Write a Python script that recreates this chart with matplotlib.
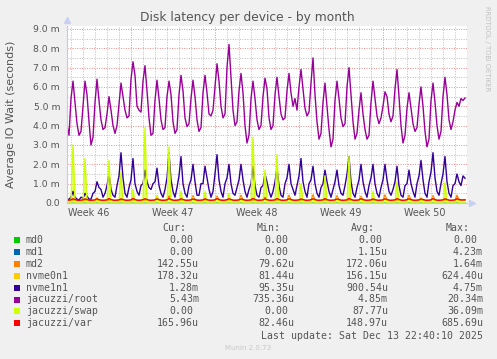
import matplotlib
import numpy as np

matplotlib.use('Agg')

import matplotlib.pyplot as plt
from matplotlib.ticker import FixedLocator

W, H = 497, 359

# values in milliseconds, one sample every 4 hours (6 per day), first two before day 0
root_ms = [
    4.0, 3.5,
    5.4, 6.3, 5.2, 4.1, 3.5, 3.7, 5.0, 6.3, 5.6, 4.2, 3.0, 3.4,
    5.2, 6.4, 5.3, 4.3, 3.8, 3.9, 4.6, 5.5, 4.8, 4.0, 3.6, 4.0,
    5.1, 6.2, 5.5, 4.8, 4.4, 4.5, 6.4, 7.3, 6.6, 5.0, 4.8, 4.7,
    6.3, 7.1, 5.8, 4.4, 3.5, 3.6, 5.3, 6.35, 5.4, 4.3, 3.8, 3.9,
    5.5, 6.3, 5.6, 4.2, 3.6, 3.8, 5.6, 6.6, 5.8, 4.4, 3.95, 4.1,
    5.4, 6.35, 5.5, 4.3, 3.7, 3.9, 5.7, 6.6, 5.7, 4.6, 4.5, 4.8,
    6.0, 7.2, 6.3, 5.0, 4.4, 4.6, 7.0, 8.2, 6.5, 4.8, 4.0, 4.2,
    5.8, 6.7, 5.7, 4.0, 3.1, 3.5, 5.4, 6.3, 5.4, 4.3, 3.8, 4.0,
    5.5, 6.45, 5.9, 4.4, 3.8, 4.0, 5.6, 6.5, 5.5, 4.6, 4.3, 4.4,
    5.8, 6.7, 5.7, 5.0, 5.4, 4.8, 6.0, 6.9, 5.9, 4.9, 4.5, 4.7,
    6.2, 7.5, 5.6, 4.2, 3.3, 3.6, 5.2, 6.2, 5.0, 3.8, 2.9, 3.3,
    5.3, 6.3, 5.4, 4.4, 3.95, 4.1, 6.0, 7.0, 5.6, 4.2, 3.3, 3.6,
    4.8, 5.7, 4.6, 3.8, 3.3, 3.5, 5.2, 6.3, 5.4, 4.5, 4.1, 4.4,
    5.0, 5.75, 5.5, 4.6, 4.2, 4.5, 5.9, 6.9, 5.5, 4.0, 3.1, 3.5,
    4.9, 5.7, 4.9, 4.1, 3.7, 3.9, 5.1, 6.0, 5.0, 3.7, 2.9, 3.3,
    5.3, 6.2, 5.2, 4.0, 3.3, 3.7, 5.5, 6.5, 5.6, 4.3, 3.8, 4.2,
    4.8, 5.2, 5.0, 5.4, 5.3, 5.43,
]

nvme1n1_ms = [
    0.15, 0.2,
    0.3, 0.6, 0.3, 0.2, 0.15, 0.3, 0.25, 0.5, 0.35, 0.2, 0.2, 0.5,
    0.6, 1.1, 0.8, 0.7, 0.3, 0.5, 0.9, 1.5, 0.7, 0.4, 0.3, 0.9,
    1.4, 2.6, 1.3, 0.5, 0.3, 0.8, 1.2, 2.3, 1.0, 0.6, 0.4, 0.9,
    1.0, 1.7, 1.1, 0.8, 0.7, 1.0, 1.1, 1.8, 0.9, 0.5, 0.3, 0.7,
    1.3, 2.6, 1.2, 0.6, 0.3, 0.8, 1.4, 2.4, 1.0, 0.5, 0.3, 0.9,
    1.2, 2.0, 1.1, 0.4, 0.4, 1.0, 1.0, 1.9, 1.3, 0.7, 0.3, 0.6,
    1.5, 2.5, 1.2, 0.6, 0.3, 1.0, 1.3, 2.0, 1.0, 0.5, 0.4, 0.8,
    1.2, 2.0, 1.2, 0.6, 0.3, 0.7, 1.0, 1.9, 0.9, 0.4, 0.3, 0.8,
    0.9, 1.5, 1.1, 0.6, 0.3, 0.6, 1.1, 1.8, 0.9, 0.4, 0.3, 1.0,
    1.3, 2.0, 1.0, 0.7, 0.4, 0.9, 1.4, 2.3, 1.1, 0.6, 0.3, 1.0,
    1.2, 1.9, 1.0, 0.5, 0.3, 0.8, 1.0, 1.7, 1.1, 0.6, 0.3, 0.7,
    1.1, 1.7, 0.9, 0.5, 0.4, 0.9, 1.5, 2.4, 1.1, 0.5, 0.3, 0.8,
    1.2, 2.0, 1.1, 0.6, 0.3, 0.9, 1.3, 2.0, 1.0, 0.5, 0.3, 0.8,
    1.2, 2.0, 1.2, 0.6, 0.4, 0.7, 1.1, 1.9, 0.9, 0.4, 0.3, 0.9,
    1.0, 1.7, 1.0, 0.6, 0.3, 1.0, 1.4, 2.2, 1.2, 0.5, 0.3, 1.1,
    1.6, 2.6, 1.3, 0.6, 0.4, 1.0, 1.5, 2.4, 1.1, 0.5, 0.3, 0.9,
    1.0, 1.5, 1.1, 0.9, 1.4, 1.28,
]

swap_ms = [
    0.0, 0.0,
    0.0, 3.0, 0.0, 0.0, 0.0, 0.0, 0.0, 2.3, 0.0, 0.0, 0.0, 0.0,
    0.0, 0.3, 0.0, 0.0, 0.0, 0.0, 0.0, 2.2, 0.0, 0.0, 0.0, 0.0,
    0.0, 1.6, 0.0, 0.0, 0.0, 0.0, 0.0, 0.7, 0.0, 0.0, 0.0, 0.0,
    0.0, 3.9, 0.0, 0.0, 0.0, 0.0, 0.0, 0.4, 0.0, 0.0, 0.0, 0.0,
    0.0, 2.9, 0.0, 0.0, 0.0, 0.0, 0.0, 0.6, 0.0, 0.0, 0.0, 0.0,
    0.0, 0.3, 0.0, 0.0, 0.0, 0.0, 0.0, 0.6, 0.0, 0.0, 0.0, 0.0,
    0.0, 0.3, 0.0, 0.0, 0.0, 0.0, 0.0, 0.5, 0.0, 0.0, 0.0, 0.0,
    0.0, 0.3, 0.0, 0.0, 0.0, 0.0, 0.0, 3.4, 0.0, 0.0, 0.0, 0.0,
    0.0, 1.7, 0.0, 0.0, 0.0, 0.0, 0.0, 2.5, 0.0, 0.0, 0.0, 0.0,
    0.0, 0.3, 0.0, 0.0, 0.0, 0.0, 0.0, 1.0, 0.0, 0.0, 0.0, 0.0,
    0.0, 0.3, 0.0, 0.0, 0.0, 0.0, 0.0, 1.4, 0.0, 0.0, 0.0, 0.0,
    0.0, 0.3, 0.0, 0.0, 0.0, 0.0, 0.0, 2.4, 0.0, 0.0, 0.0, 0.0,
    0.0, 0.3, 0.0, 0.0, 0.0, 0.0, 0.0, 0.6, 0.0, 0.0, 0.0, 0.0,
    0.0, 0.3, 0.0, 0.0, 0.0, 0.0, 0.0, 1.1, 0.0, 0.0, 0.0, 0.0,
    0.0, 0.3, 0.0, 0.0, 0.0, 0.0, 0.0, 0.3, 0.0, 0.0, 0.0, 0.0,
    0.0, 0.3, 0.0, 0.0, 0.0, 0.0, 0.0, 1.05, 0.0, 0.0, 0.0, 0.0,
    0.0, 0.2, 0.0, 0.0, 0.0, 0.0,
]

md2_ms = [
    0.12, 0.13,
    0.13, 0.16, 0.14, 0.12, 0.13, 0.12, 0.13, 0.15, 0.14, 0.12, 0.13, 0.12,
    0.13, 0.16, 0.14, 0.12, 0.13, 0.12, 0.13, 0.15, 0.14, 0.12, 0.13, 0.12,
    0.13, 0.16, 0.14, 0.12, 0.13, 0.12, 0.13, 0.17, 0.14, 0.12, 0.13, 0.12,
    0.13, 0.16, 0.14, 0.12, 0.13, 0.12, 0.13, 0.35, 0.14, 0.12, 0.13, 0.12,
    0.13, 0.36, 0.14, 0.12, 0.13, 0.12, 0.13, 0.16, 0.14, 0.12, 0.13, 0.12,
    0.13, 0.38, 0.14, 0.12, 0.13, 0.12, 0.13, 0.16, 0.14, 0.12, 0.13, 0.12,
    0.13, 0.36, 0.14, 0.12, 0.13, 0.12, 0.13, 0.16, 0.14, 0.12, 0.13, 0.12,
    0.13, 0.40, 0.14, 0.12, 0.13, 0.12, 0.13, 0.16, 0.14, 0.12, 0.13, 0.12,
    0.13, 0.30, 0.14, 0.12, 0.13, 0.12, 0.13, 0.16, 0.14, 0.12, 0.13, 0.12,
    0.13, 0.40, 0.14, 0.12, 0.13, 0.12, 0.13, 0.16, 0.14, 0.12, 0.13, 0.12,
    0.13, 0.42, 0.14, 0.12, 0.13, 0.12, 0.13, 0.16, 0.14, 0.12, 0.13, 0.12,
    0.13, 0.38, 0.14, 0.12, 0.13, 0.12, 0.13, 0.16, 0.14, 0.12, 0.13, 0.12,
    0.13, 0.35, 0.14, 0.12, 0.13, 0.12, 0.13, 0.16, 0.14, 0.12, 0.13, 0.12,
    0.13, 0.42, 0.14, 0.12, 0.13, 0.12, 0.13, 0.16, 0.14, 0.12, 0.13, 0.12,
    0.13, 0.40, 0.14, 0.12, 0.13, 0.12, 0.13, 0.16, 0.14, 0.12, 0.13, 0.12,
    0.13, 0.38, 0.14, 0.12, 0.13, 0.12, 0.13, 0.16, 0.14, 0.12, 0.13, 0.12,
    0.13, 0.40, 0.15, 0.13, 0.14, 0.143,
]

nvme0n1_ms = [
    0.13, 0.13,
    0.14, 0.20, 0.16, 0.13, 0.12, 0.13, 0.14, 0.19, 0.16, 0.13, 0.12, 0.13,
    0.14, 0.20, 0.16, 0.13, 0.12, 0.13, 0.14, 0.21, 0.16, 0.13, 0.12, 0.13,
    0.14, 0.20, 0.16, 0.13, 0.12, 0.13, 0.14, 0.22, 0.16, 0.13, 0.12, 0.13,
    0.14, 0.20, 0.16, 0.13, 0.12, 0.13, 0.14, 0.19, 0.16, 0.13, 0.12, 0.13,
    0.14, 0.21, 0.16, 0.13, 0.12, 0.13, 0.14, 0.20, 0.16, 0.13, 0.12, 0.13,
    0.14, 0.20, 0.16, 0.13, 0.12, 0.13, 0.14, 0.19, 0.16, 0.13, 0.12, 0.13,
    0.14, 0.21, 0.16, 0.13, 0.12, 0.13, 0.14, 0.20, 0.16, 0.13, 0.12, 0.13,
    0.14, 0.20, 0.16, 0.13, 0.12, 0.13, 0.14, 0.22, 0.16, 0.13, 0.12, 0.13,
    0.14, 0.20, 0.16, 0.13, 0.12, 0.13, 0.14, 0.21, 0.16, 0.13, 0.12, 0.13,
    0.14, 0.20, 0.16, 0.13, 0.12, 0.13, 0.14, 0.19, 0.16, 0.13, 0.12, 0.13,
    0.14, 0.20, 0.16, 0.13, 0.12, 0.13, 0.14, 0.21, 0.16, 0.13, 0.12, 0.13,
    0.14, 0.20, 0.16, 0.13, 0.12, 0.13, 0.14, 0.22, 0.16, 0.13, 0.12, 0.13,
    0.14, 0.20, 0.16, 0.13, 0.12, 0.13, 0.14, 0.19, 0.16, 0.13, 0.12, 0.13,
    0.14, 0.20, 0.16, 0.13, 0.12, 0.13, 0.14, 0.21, 0.16, 0.13, 0.12, 0.13,
    0.14, 0.20, 0.16, 0.13, 0.12, 0.13, 0.14, 0.20, 0.16, 0.13, 0.12, 0.13,
    0.14, 0.21, 0.16, 0.13, 0.12, 0.13, 0.14, 0.20, 0.16, 0.13, 0.12, 0.13,
    0.14, 0.20, 0.17, 0.15, 0.16, 0.178,
]

var_ms = [
    0.14, 0.15,
    0.16, 0.22, 0.18, 0.15, 0.14, 0.15, 0.16, 0.21, 0.18, 0.15, 0.14, 0.15,
    0.16, 0.22, 0.17, 0.15, 0.14, 0.15, 0.16, 0.23, 0.18, 0.15, 0.14, 0.15,
    0.16, 0.21, 0.18, 0.15, 0.14, 0.15, 0.16, 0.24, 0.18, 0.15, 0.14, 0.15,
    0.17, 0.22, 0.18, 0.15, 0.14, 0.15, 0.16, 0.21, 0.17, 0.15, 0.14, 0.15,
    0.16, 0.23, 0.18, 0.15, 0.14, 0.15, 0.16, 0.22, 0.18, 0.15, 0.14, 0.15,
    0.16, 0.21, 0.18, 0.15, 0.14, 0.15, 0.16, 0.22, 0.17, 0.15, 0.14, 0.15,
    0.16, 0.23, 0.18, 0.15, 0.14, 0.15, 0.17, 0.22, 0.18, 0.15, 0.14, 0.15,
    0.16, 0.21, 0.18, 0.15, 0.14, 0.15, 0.16, 0.24, 0.18, 0.15, 0.14, 0.15,
    0.16, 0.22, 0.17, 0.15, 0.14, 0.15, 0.16, 0.23, 0.18, 0.15, 0.14, 0.15,
    0.16, 0.22, 0.18, 0.15, 0.14, 0.15, 0.16, 0.21, 0.18, 0.15, 0.14, 0.15,
    0.17, 0.22, 0.18, 0.15, 0.14, 0.15, 0.16, 0.23, 0.17, 0.15, 0.14, 0.15,
    0.16, 0.21, 0.18, 0.15, 0.14, 0.15, 0.16, 0.24, 0.18, 0.15, 0.14, 0.15,
    0.16, 0.22, 0.18, 0.15, 0.14, 0.15, 0.16, 0.21, 0.17, 0.15, 0.14, 0.15,
    0.16, 0.22, 0.18, 0.15, 0.14, 0.15, 0.16, 0.23, 0.18, 0.15, 0.14, 0.15,
    0.17, 0.22, 0.18, 0.15, 0.14, 0.15, 0.16, 0.21, 0.18, 0.15, 0.14, 0.15,
    0.16, 0.23, 0.17, 0.15, 0.14, 0.15, 0.16, 0.22, 0.18, 0.15, 0.14, 0.15,
    0.16, 0.22, 0.18, 0.16, 0.16, 0.166,
]

md1_ms = [0.0] * len(root_ms)
md0_ms = [0.0] * len(root_ms)

week_labels = ['Week 46', 'Week 47', 'Week 48', 'Week 49', 'Week 50']
week_pos = [1.5, 8.5, 15.5, 22.5, 29.5]   # days, labels centred in the week
monday_pos = [5, 12, 19, 26]

names = ['md0', 'md1', 'md2', 'nvme0n1', 'nvme1n1',
         'jacuzzi/root', 'jacuzzi/swap', 'jacuzzi/var']
colors = ['#00CC00', '#0066B3', '#FF8000', '#FFCC00', '#330099',
          '#990099', '#CCFF00', '#FF0000']
cur_txt = ['0.00', '0.00', '142.55u', '178.32u', '1.28m', '5.43m', '0.00', '165.96u']
min_txt = ['0.00', '0.00', '79.62u', '81.44u', '95.35u', '735.36u', '0.00', '82.46u']
avg_txt = ['0.00', '1.15u', '172.06u', '156.15u', '900.54u', '4.85m', '87.77u', '148.97u']
max_txt = ['0.00', '4.23m', '1.64m', '624.40u', '4.75m', '20.34m', '36.09m', '685.69u']

series = [md0_ms, md1_ms, md2_ms, nvme0n1_ms, nvme1n1_ms, root_ms, swap_ms, var_ms]
t = -1 / 3 + np.arange(len(root_ms)) / 6.0

TXT = '#555555'


def fx(px):
    return px / W


def fy(py):
    return 1 - py / H


fig = plt.figure(figsize=(W / 100, H / 100), dpi=100, facecolor='#F0F0F0')
ax = fig.add_axes([fx(67), fy(203), 400 / W, (203 - 26) / H])
ax.set_facecolor('white')
ax.set_xlim(-1 / 3, 33.0)
ax.set_ylim(0, 9.15)

# grid like rrdtool: grey dotted minor, red dotted major
ax.xaxis.set_major_locator(FixedLocator(monday_pos))
ax.xaxis.set_minor_locator(FixedLocator([d for d in range(0, 33) if d not in monday_pos]))
ax.yaxis.set_major_locator(FixedLocator(np.arange(0, 10)))
ax.yaxis.set_minor_locator(FixedLocator(np.arange(0.5, 9.5, 1.0)))
ax.grid(which='minor', color='#bdbdbd', linestyle=(0, (1, 1.5)), linewidth=0.7)
ax.grid(which='major', color='#e58c8c', linestyle=(0, (1, 1.5)), linewidth=0.7)
ax.set_axisbelow(True)
ax.tick_params(which='both', length=0)
ax.set_xticklabels([])
ax.set_yticklabels(['0.0'] + ['%.1f m' % v for v in range(1, 10)],
                   fontsize=6.7, color=TXT)
ax.tick_params(axis='y', pad=5)

for s in ['top', 'right']:
    ax.spines[s].set_visible(False)
for s in ['left', 'bottom']:
    ax.spines[s].set_color('#c8c8e8')
    ax.spines[s].set_linewidth(0.8)
ax.plot([0], [1.035], marker='^', color='#c8d0f0', markersize=4,
        transform=ax.transAxes, clip_on=False)
ax.plot([1.012], [0], marker='>', color='#c8d0f0', markersize=4,
        transform=ax.transAxes, clip_on=False)

for vals, c, n in zip(series, colors, names):
    if n == 'jacuzzi/swap':
        ax.fill_between(t, 0, vals, color=c, alpha=0.55, linewidth=0)
    ax.plot(t, vals, color=c, linewidth=1.0)

for lab, p in zip(week_labels, week_pos):
    ax.text(p, -0.5, lab, ha='center', va='center', fontsize=6.9, color=TXT)

fig.text(fx(247.5), fy(18), 'Disk latency per device - by month',
         ha='center', va='center', fontsize=8.8, color=TXT)
fig.text(fx(11), fy(114), 'Average IO Wait (seconds)', rotation=90,
         ha='center', va='center', fontsize=8, color=TXT)
fig.text(fx(487), fy(6), 'RRDTOOL / TOBI OETIKER', rotation=270,
         ha='center', va='top', fontsize=4.8, color='#c0c0c0')

# legend table
mono = 'DejaVu Sans Mono'
fs = 7.1
cols = [199, 294, 388, 483]
heads = ['Cur:', 'Min:', 'Avg:', 'Max:']
for h, c in zip(heads, cols):
    fig.text(fx(c - 13), fy(228), h, ha='right', va='center',
             family=mono, fontsize=fs, color=TXT)

for i, (n, c) in enumerate(zip(names, colors)):
    y = 240 + i * 11.9
    fig.patches.append(plt.Rectangle((fx(14), fy(y + 3)), 6 / W, 6 / H,
                                     transform=fig.transFigure, facecolor=c,
                                     edgecolor='none'))
    fig.text(fx(26), fy(y), n, ha='left', va='center',
             family=mono, fontsize=fs, color=TXT)
    for txt, col in zip([cur_txt[i], min_txt[i], avg_txt[i], max_txt[i]], cols):
        right = col if txt[-1] in 'um' else col - 6
        fig.text(fx(right), fy(y), txt, ha='right', va='center',
                 family=mono, fontsize=fs, color=TXT)

fig.text(fx(483), fy(336), 'Last update: Sat Dec 13 22:40:10 2025',
         ha='right', va='center', family=mono, fontsize=fs, color=TXT)
fig.text(fx(248), fy(348), 'Munin 2.0.73', ha='center', va='center',
         fontsize=5, color='#c8c8c8')

fig.savefig('out.png', dpi=100, facecolor=fig.get_facecolor())
